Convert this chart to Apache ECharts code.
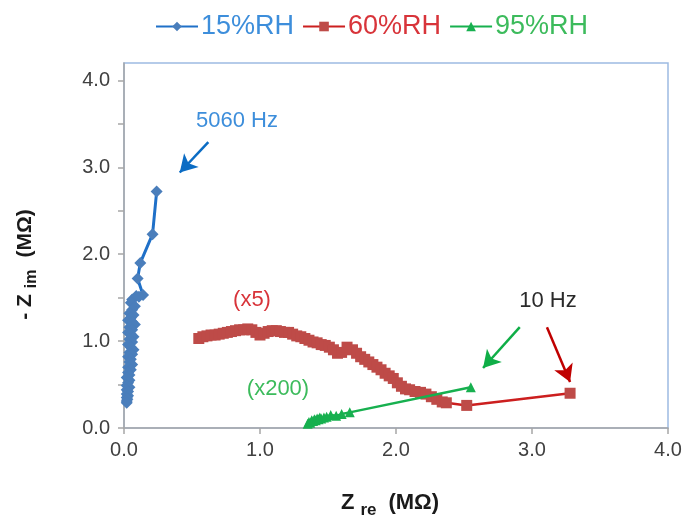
<!DOCTYPE html>
<html>
<head>
<meta charset="utf-8">
<script src="https://cdn.jsdelivr.net/npm/echarts@6/dist/echarts.min.js"></script>
<style>
  html, body { margin: 0; padding: 0; background: #ffffff; }
  #chart { width: 686px; height: 517px; }
</style>
</head>
<body>
<div id="chart"></div>
<script>
// Nyquist plot of impedance at three humidity levels (MΩ)
const seriesNames = ['15%RH', '60%RH', '95%RH'];

// 15%RH, from 5060 Hz downwards
const rh15Re = [0.24, 0.21, 0.12, 0.10, 0.14, 0.06, 0.09, 0.11, 0.05, 0.08, 0.06, 0.04, 0.07, 0.05, 0.03,
                0.06, 0.08, 0.04, 0.06, 0.03, 0.05, 0.07, 0.04, 0.06, 0.03, 0.05, 0.07, 0.04, 0.06, 0.03,
                0.05, 0.04, 0.06, 0.03, 0.05, 0.03, 0.04, 0.02, 0.04, 0.03, 0.02, 0.04, 0.02, 0.03, 0.02,
                0.03, 0.02, 0.025, 0.02, 0.02];
const rh15Im = [2.72, 2.23, 1.90, 1.72, 1.53, 1.48, 1.52, 1.51, 1.44, 1.40, 1.36, 1.32, 1.30, 1.27, 1.24,
                1.22, 1.19, 1.16, 1.13, 1.10, 1.08, 1.05, 1.02, 0.99, 0.96, 0.93, 0.90, 0.87, 0.85, 0.82,
                0.79, 0.76, 0.73, 0.70, 0.67, 0.64, 0.61, 0.58, 0.55, 0.52, 0.49, 0.47, 0.44, 0.42, 0.39,
                0.37, 0.35, 0.33, 0.31, 0.29];

// 60%RH (values shown x5)
const rh60Re = [0.55, 0.58, 0.61, 0.64, 0.67, 0.70, 0.73, 0.76, 0.79, 0.82, 0.85, 0.88, 0.91, 0.94, 0.97,
                1.00, 1.03, 1.06, 1.09, 1.12, 1.15, 1.18, 1.21, 1.24, 1.27, 1.30, 1.33, 1.36, 1.39, 1.42,
                1.45, 1.48, 1.51, 1.54, 1.57, 1.60, 1.64, 1.68, 1.71, 1.74, 1.77, 1.80, 1.83, 1.86, 1.89,
                1.92, 1.95, 1.98, 2.01, 2.04, 2.07, 2.10, 2.14, 2.18, 2.22, 2.26, 2.30, 2.34, 2.37, 2.52,
                3.28];
const rh60Im = [1.03, 1.05, 1.06, 1.07, 1.07, 1.08, 1.09, 1.10, 1.11, 1.12, 1.13, 1.13, 1.14, 1.13, 1.10,
                1.07, 1.09, 1.11, 1.12, 1.12, 1.11, 1.10, 1.10, 1.08, 1.06, 1.05, 1.03, 1.01, 0.99, 0.98,
                0.96, 0.95, 0.93, 0.90, 0.86, 0.87, 0.93, 0.90, 0.86, 0.82, 0.79, 0.76, 0.73, 0.70, 0.67,
                0.63, 0.60, 0.57, 0.52, 0.48, 0.45, 0.44, 0.42, 0.41, 0.39, 0.36, 0.33, 0.30, 0.29, 0.26,
                0.40];

// 95%RH (values shown x200)
const rh95Re = [1.35, 1.36, 1.37, 1.38, 1.39, 1.40, 1.41, 1.42, 1.43, 1.44, 1.45, 1.47, 1.49, 1.52, 1.56,
                1.60, 1.66, 2.55];
const rh95Im = [0.05, 0.07, 0.06, 0.09, 0.08, 0.10, 0.09, 0.11, 0.10, 0.12, 0.11, 0.12, 0.13, 0.15, 0.14,
                0.16, 0.18, 0.47];

// axis ticks
const xTicks = [0, 1, 2, 3, 4];
const yTicks = [0, 0.5, 1, 1.5, 2, 2.5, 3, 3.5, 4];
const yLabels = [0, 1, 2, 3, 4];

// annotation arrows [startRe, startIm, endRe, endIm]
const arrow5060 = [0.62, 3.29, 0.41, 2.94];
const arrow95 = [2.91, 1.16, 2.64, 0.69];
const arrow60 = [3.11, 1.16, 3.28, 0.53];

const pair = (re, im) => re.map((v, i) => [v, im[i]]);

const FONT = '"Liberation Sans", Arial, sans-serif';
const colors = {
  blueLine: '#1f70c8', blueMark: '#4a7ebb', blueText: '#3d8edb',
  redLine: '#cc1f1f', redMark: '#be4b48', redText: '#d8343a',
  greenLine: '#17b04f', greenMark: '#17b04f', greenText: '#3cbb5c'
};

function arrowLine(a, color) {
  return {
    silent: true,
    animation: false,
    symbol: ['none', 'arrow'],
    symbolSize: [15, 17],
    label: { show: false },
    lineStyle: { color: color, width: 2.5, type: 'solid' },
    emphasis: { disabled: true },
    data: [[{ coord: [a[0], a[1]] }, { coord: [a[2], a[3]] }]]
  };
}

const chart = echarts.init(document.getElementById('chart'), null, { renderer: 'canvas' });

chart.setOption({
  animation: false,
  backgroundColor: '#ffffff',
  textStyle: { fontFamily: FONT },
  legend: {
    top: 8,
    left: 150,
    itemWidth: 42,
    itemHeight: 12,
    itemGap: 8,
    textStyle: { fontSize: 27, fontFamily: FONT, padding: [0, 0, 0, -2] },
    data: [
      { name: seriesNames[0], textStyle: { color: colors.blueText } },
      { name: seriesNames[1], textStyle: { color: colors.redText } },
      { name: seriesNames[2], textStyle: { color: colors.greenText } }
    ]
  },
  grid: {
    left: 124, right: 18, top: 63, bottom: 89,
    outerBoundsMode: 'none',
    containLabel: false,
    show: true,
    borderColor: '#9dbbe2',
    borderWidth: 1.5,
    backgroundColor: 'transparent'
  },
  xAxis: {
    type: 'value',
    min: 0, max: 4, interval: 1,
    name: '{b|Z}{s|re}{b|(MΩ)}',
    nameLocation: 'middle',
    nameGap: 58,
    nameTextStyle: {
      padding: [0, 12, 0, 0],
      rich: {
        b: { fontSize: 22, fontWeight: 'bold', color: '#1a1a1a', fontFamily: FONT },
        s: { fontSize: 17, fontWeight: 'bold', color: '#1a1a1a', fontFamily: FONT, padding: [16, 12, 0, 6] }
      }
    },
    axisLine: { show: true, lineStyle: { color: '#a6a6a6', width: 1.5 } },
    axisTick: { show: true, length: 6, lineStyle: { color: '#a6a6a6', width: 1.5 }, customValues: xTicks },
    axisLabel: { customValues: xTicks, formatter: v => v.toFixed(1), fontSize: 20, color: '#404040', margin: 12, fontFamily: FONT },
    splitLine: { show: false }
  },
  yAxis: {
    type: 'value',
    min: 0, max: 4.2,
    name: '{b|- Z}{s|im}{b|(MΩ)}',
    nameLocation: 'middle',
    nameRotate: 90,
    nameGap: 84,
    nameTextStyle: {
      padding: [0, 38, 0, 0],
      rich: {
        b: { fontSize: 21, fontWeight: 'bold', color: '#1a1a1a', fontFamily: FONT },
        s: { fontSize: 16, fontWeight: 'bold', color: '#1a1a1a', fontFamily: FONT, padding: [14, 12, 0, 6] }
      }
    },
    axisLine: { show: true, lineStyle: { color: '#a6a6a6', width: 1.5 } },
    axisTick: { show: true, length: 6, lineStyle: { color: '#a6a6a6', width: 1.5 }, customValues: yTicks },
    axisLabel: { customValues: yLabels, formatter: v => v.toFixed(1), fontSize: 20, color: '#404040', margin: 14, fontFamily: FONT },
    splitLine: { show: false }
  },
  series: [
    {
      name: seriesNames[0],
      type: 'line',
      data: pair(rh15Re, rh15Im),
      symbol: 'diamond',
      symbolSize: 12,
      showAllSymbol: true,
      color: colors.blueMark,
      itemStyle: { color: colors.blueMark },
      lineStyle: { color: colors.blueLine, width: 3 },
      z: 3,
      markLine: arrowLine(arrow5060, '#0b6cc4')
    },
    {
      name: seriesNames[1],
      type: 'line',
      data: pair(rh60Re, rh60Im),
      symbol: 'rect',
      symbolSize: 11,
      showAllSymbol: true,
      color: colors.redMark,
      itemStyle: { color: colors.redMark },
      lineStyle: { color: colors.redLine, width: 2.5 },
      z: 2,
      markLine: arrowLine(arrow60, '#c00000')
    },
    {
      name: seriesNames[2],
      type: 'line',
      data: pair(rh95Re, rh95Im),
      symbol: 'triangle',
      symbolSize: 10,
      showAllSymbol: true,
      color: colors.greenMark,
      itemStyle: { color: colors.greenMark },
      lineStyle: { color: colors.greenLine, width: 2.5 },
      z: 4,
      markLine: arrowLine(arrow95, '#0fae47')
    }
  ],
  graphic: [
    { type: 'text', x: 237, y: 121, style: { text: '5060 Hz', fill: colors.blueText, fontSize: 22, fontFamily: FONT, align: 'center', verticalAlign: 'middle' } },
    { type: 'text', x: 252, y: 300, style: { text: '(x5)', fill: colors.redText, fontSize: 22, fontFamily: FONT, align: 'center', verticalAlign: 'middle' } },
    { type: 'text', x: 548, y: 301, style: { text: '10 Hz', fill: '#2a2a2a', fontSize: 22, fontFamily: FONT, align: 'center', verticalAlign: 'middle' } },
    { type: 'text', x: 278, y: 389, style: { text: '(x200)', fill: colors.greenText, fontSize: 22, fontFamily: FONT, align: 'center', verticalAlign: 'middle' } }
  ]
});
</script>
</body>
</html>
